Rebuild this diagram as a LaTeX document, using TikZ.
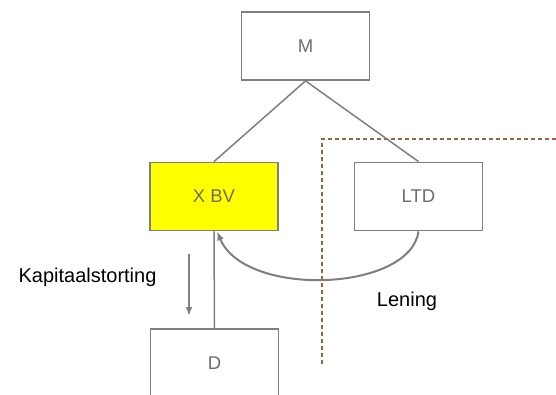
\documentclass[tikz,border=0pt]{standalone}
\usepackage{fontspec}
\setmainfont{Liberation Sans}
\usetikzlibrary{arrows.meta}
\definecolor{linegray}{HTML}{7F7F7F}
\definecolor{textgray}{HTML}{6E6E6E}
\definecolor{dashbrown}{HTML}{A0603C}
\definecolor{boxyellow}{HTML}{FFFF00}
\begin{document}
\begin{tikzpicture}[
    x=1pt, y=-1pt,
    ent/.style={draw=linegray, line width=1.8pt, minimum width=128pt, minimum height=68pt, inner sep=0pt, text=textgray, font=\fontsize{18.5}{22}\selectfont, fill=#1},
    ent/.default=white,
    link/.style={linegray, line width=1.5pt},
    arrow/.style={-{Latex[length=9pt,width=7pt]}, linegray, line width=2pt},
    lbl/.style={font=\fontsize{20}{24}\selectfont, anchor=base}
]
\clip (0,0) rectangle (556,395);

% Entities
\node[ent] (m) at (305.5,46) {M};
\node[ent=boxyellow] (xbv) at (214,196.5) {X BV};
\node[ent] (ltd) at (418.5,196.5) {LTD};
\node[ent] (d) at (214.5,363) {D};

% Border
\draw[dashbrown, line width=1.5pt, dash pattern=on 4pt off 3pt] (556,139) -- (322,139) -- (322,367);

% Ownership lines
\draw[link] (m.south) -- (xbv.north);
\draw[link] (m.south) -- (ltd.north);
\draw[link] (d.north) -- (xbv.south);

% Flows
\coordinate (kaptop) at (189,254);
\coordinate (kapbot) at (189,316);
\draw[arrow] (kaptop) -- (kapbot);
\draw[arrow] (ltd.south) .. controls (410,292) and (245,298) .. ([xshift=3pt]xbv.south);

% Labels
\node[lbl] (kap) at (87.5,282) {Kapitaalstorting};
\node[lbl] (len) at (407,306) {Lening};
\end{tikzpicture}
\end{document}
